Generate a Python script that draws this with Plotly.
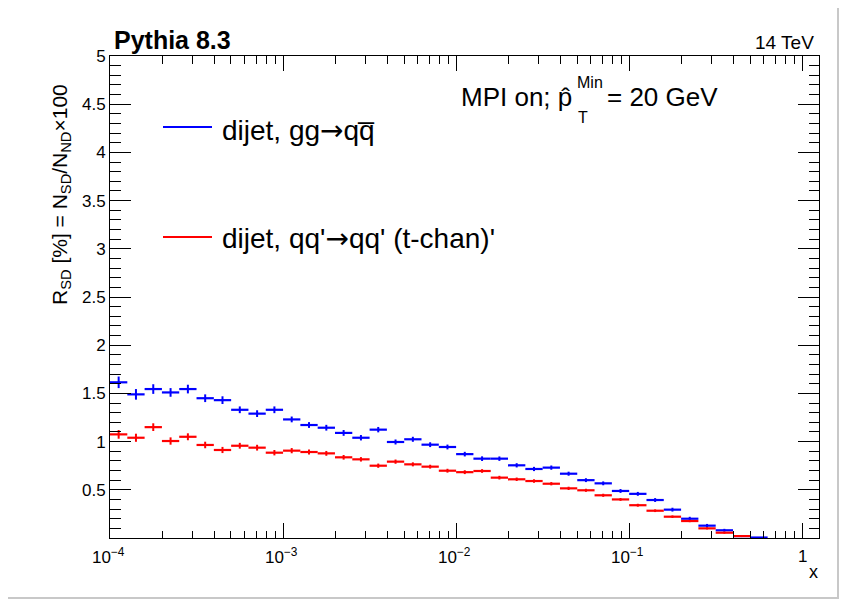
import numpy as np
import plotly.graph_objects as go

# ---- data ----
n_bins = 40
bin_edges_log = [-4 + i / 10 for i in range(n_bins + 1)]

blue_vals = [1.615, 1.49, 1.545, 1.51, 1.545, 1.45, 1.43, 1.33, 1.29, 1.33,
             1.23, 1.172, 1.144, 1.09, 1.04, 1.124, 0.996, 1.024, 0.968, 0.944,
             0.87, 0.823, 0.823, 0.754, 0.716, 0.73, 0.667, 0.60, 0.567, 0.488,
             0.458, 0.394, 0.294, 0.20, 0.128, 0.08, 0.02, 0.005]
blue_errs = [0.06, 0.055, 0.05, 0.045, 0.045, 0.04, 0.04, 0.035, 0.035, 0.035,
             0.03, 0.03, 0.03, 0.03, 0.028, 0.028, 0.026, 0.026, 0.025, 0.025,
             0.024, 0.024, 0.023, 0.022, 0.022, 0.022, 0.021, 0.02, 0.02, 0.02,
             0.02, 0.02, 0.02, 0.02, 0.018, 0.015, 0.01, 0.005]

red_vals = [1.075, 1.04, 1.15, 1.006, 1.05, 0.965, 0.913, 0.957, 0.937, 0.885,
            0.906, 0.892, 0.878, 0.837, 0.816, 0.75, 0.792, 0.764, 0.74, 0.698,
            0.683, 0.695, 0.626, 0.609, 0.591, 0.563, 0.515, 0.495, 0.443, 0.40,
            0.34, 0.283, 0.221, 0.176, 0.10, 0.055, 0.02]
red_errs = [0.045, 0.042, 0.04, 0.038, 0.036, 0.034, 0.032, 0.03, 0.03, 0.028,
            0.027, 0.026, 0.025, 0.024, 0.023, 0.022, 0.022, 0.021, 0.02, 0.02,
            0.02, 0.019, 0.019, 0.018, 0.018, 0.017, 0.017, 0.016, 0.016, 0.015,
            0.015, 0.014, 0.013, 0.012, 0.011, 0.01, 0.008]

x_tick_vals = [1e-4, 1e-3, 1e-2, 1e-1, 1]
x_tick_text = ["10<sup>\u22124</sup>", "10<sup>\u22123</sup>", "10<sup>\u22122</sup>",
               "10<sup>\u22121</sup>", "1"]
y_tick_vals = [0.5, 1, 1.5, 2, 2.5, 3, 3.5, 4, 4.5, 5]
y_tick_text = ["0.5", "1", "1.5", "2", "2.5", "3", "3.5", "4", "4.5", "5"]

BLUE = "#0000ff"
RED = "#ff0000"

edges = np.power(10.0, bin_edges_log)
centers = np.sqrt(edges[:-1] * edges[1:])


def hist_trace(vals, errs, color):
    n = len(vals)
    c = centers[:n]
    lo = edges[:n]
    hi = edges[1:n + 1]
    return go.Scatter(
        x=c, y=vals, mode="markers",
        marker=dict(size=1, color=color),
        error_x=dict(type="data", symmetric=False, array=hi - c, arrayminus=c - lo,
                     width=0, thickness=2.2, color=color),
        error_y=dict(type="data", array=errs, width=0, thickness=2, color=color),
        showlegend=False, hoverinfo="skip",
    )


fig = go.Figure()
fig.add_trace(hist_trace(blue_vals, blue_errs, BLUE))
fig.add_trace(hist_trace(red_vals, red_errs, RED))

# page has an 8px body margin: figure coordinates = reference coordinates - 8
OFF = 8
W, H = 853 - OFF, 603 - OFF
# plot area in reference pixels
L, R, T, B = 110, 819, 56, 538


def px(x):
    return (x - L) / (R - L)


def py(y):
    return (B - y) / (B - T)


minor_x = [k * 10.0 ** e for e in range(-4, 1) for k in range(2, 10) if k * 10.0 ** e < 1.25]

FONT = "Liberation Sans, Arial, Helvetica, sans-serif"

fig.update_layout(
    width=W, height=H,
    margin=dict(l=L - OFF, r=W - (R - OFF), t=T - OFF, b=H - (B - OFF)),
    paper_bgcolor="white", plot_bgcolor="white",
    font=dict(family=FONT, color="black"),
    xaxis=dict(
        type="log", range=[-4, np.log10(1.25)],
        tickmode="array", tickvals=x_tick_vals, ticktext=[""] * len(x_tick_vals),
        ticks="inside", ticklen=15, tickwidth=1, tickcolor="black",
        showline=True, linecolor="black", linewidth=1, mirror="allticks",
        showgrid=False, zeroline=False,
        minor=dict(tickmode="array", tickvals=minor_x, ticks="inside", ticklen=7.5,
                   tickwidth=1, tickcolor="black", showgrid=False),
    ),
    yaxis=dict(
        range=[0, 5],
        tickmode="array", tickvals=y_tick_vals, ticktext=y_tick_text,
        ticks="inside", ticklen=21, tickwidth=1, tickcolor="black",
        showline=True, linecolor="black", linewidth=1, mirror="allticks",
        showgrid=False, zeroline=False,
        tickfont=dict(size=17, family=FONT),
        minor=dict(dtick=0.1, ticks="inside", ticklen=10.5, tickwidth=1,
                   tickcolor="black", showgrid=False),
    ),
)

ann = []
# x tick labels
for v, t in zip(x_tick_vals, x_tick_text):
    ann.append(dict(x=np.log10(v), y=py(556), xref="x", yref="paper", xanchor="center",
                    yanchor="middle", text=t, showarrow=False,
                    xshift=(-2 if v < 1 else 0), font=dict(size=17, family=FONT)))
# top texts
ann.append(dict(x=px(112), y=py(40), xref="paper", yref="paper", xanchor="left", yanchor="middle",
                text="<b>Pythia 8.3</b>", showarrow=False, font=dict(size=25, family=FONT)))
ann.append(dict(x=px(816), y=py(42), xref="paper", yref="paper", xanchor="right", yanchor="middle",
                text="14 TeV", showarrow=False, font=dict(size=19, family=FONT)))
# MPI text
ann.append(dict(x=px(574), y=py(97), xref="paper", yref="paper", xanchor="right", yanchor="middle",
                text="MPI on; p\u0302", showarrow=False, font=dict(size=26, family=FONT)))
ann.append(dict(x=px(575), y=py(82), xref="paper", yref="paper", xanchor="left", yanchor="middle",
                text="Min", showarrow=False, font=dict(size=16, family=FONT)))
ann.append(dict(x=px(576), y=py(117), xref="paper", yref="paper", xanchor="left", yanchor="middle",
                text="T", showarrow=False, font=dict(size=16, family=FONT)))
ann.append(dict(x=px(605), y=py(97), xref="paper", yref="paper", xanchor="left", yanchor="middle",
                text="= 20 GeV", showarrow=False, font=dict(size=26, family=FONT)))
# legend texts
ARROW = "<span style='font-family:DejaVu Sans'>\u2192</span>"
ann.append(dict(x=px(220), y=py(130), xref="paper", yref="paper", xanchor="left", yanchor="middle",
                text="dijet, gg" + ARROW + "qq\u0305", showarrow=False, font=dict(size=28, family=FONT)))
ann.append(dict(x=px(220), y=py(238), xref="paper", yref="paper", xanchor="left", yanchor="middle",
                text="dijet, qq'" + ARROW + "qq' (t-chan)'", showarrow=False, font=dict(size=28, family=FONT)))
# axis titles
ann.append(dict(x=px(61), y=py(195), xref="paper", yref="paper", xanchor="center", yanchor="middle",
                text="R<sub>SD</sub> [%] = N<sub>SD</sub>/N<sub>ND</sub>\u00d7100", textangle=-90,
                showarrow=False, font=dict(size=21, family=FONT)))
ann.append(dict(x=px(813), y=py(572), xref="paper", yref="paper", xanchor="center", yanchor="middle",
                text="x", showarrow=False, font=dict(size=18, family=FONT)))
fig.update_layout(annotations=ann)

shapes = []
# legend line samples
shapes.append(dict(type="line", xref="paper", yref="paper", x0=px(163), x1=px(212), y0=py(127), y1=py(127),
                   line=dict(color=BLUE, width=2)))
shapes.append(dict(type="line", xref="paper", yref="paper", x0=px(163), x1=px(212), y0=py(237), y1=py(237),
                   line=dict(color=RED, width=2)))
# screenshot border
shapes.append(dict(type="rect", xref="paper", yref="paper", x0=px(6), x1=px(838), y0=py(3), y1=py(598),
                   line=dict(color="#c8c8c8", width=2), layer="below"))
fig.update_layout(shapes=shapes)

fig.write_html("out.html")
